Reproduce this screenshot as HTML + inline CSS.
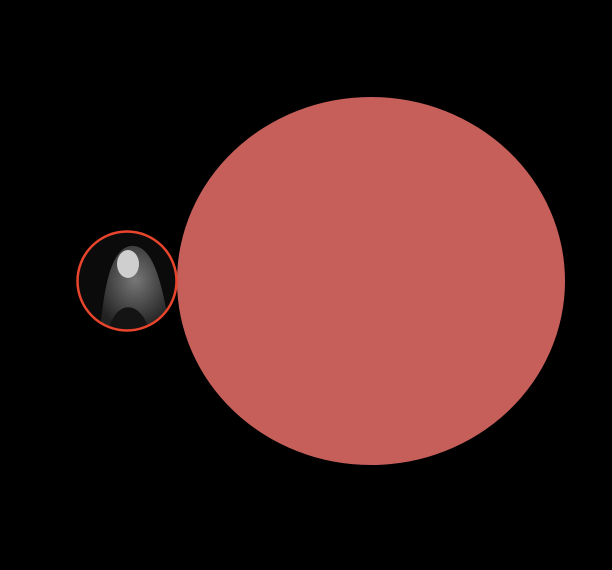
<!DOCTYPE html>
<html>
<head>
<meta charset="utf-8">
<style>
  html,body{margin:0;padding:0;background:#000;width:612px;height:570px;overflow:hidden;}
  svg{display:block;}
</style>
</head>
<body>
<svg width="612" height="570" viewBox="0 0 612 570">
  <rect x="0" y="0" width="612" height="570" fill="#000"/>
  <ellipse cx="371" cy="281" rx="194" ry="184" fill="#c65f5a"/>
  <defs>
    <clipPath id="avClip"><circle cx="127" cy="281" r="49"/></clipPath>
    <radialGradient id="hair" cx="0.5" cy="0.4" r="0.6">
      <stop offset="0" stop-color="#777"/>
      <stop offset="1" stop-color="#222"/>
    </radialGradient>
  </defs>
  <g clip-path="url(#avClip)">
    <rect x="77" y="231" width="100" height="100" fill="#0b0b0b"/>
    <path d="M100 330 C104 290 110 250 130 246 C150 244 160 270 170 330 Z" fill="url(#hair)"/>
    <ellipse cx="128" cy="264" rx="11" ry="14" fill="#cfcfcf"/>
    <path d="M108 332 C115 300 140 298 150 332 Z" fill="#141414"/>
  </g>
  <circle cx="127" cy="281" r="49.5" fill="none" stroke="#e8452c" stroke-width="2.5"/>
</svg>
</body>
</html>
